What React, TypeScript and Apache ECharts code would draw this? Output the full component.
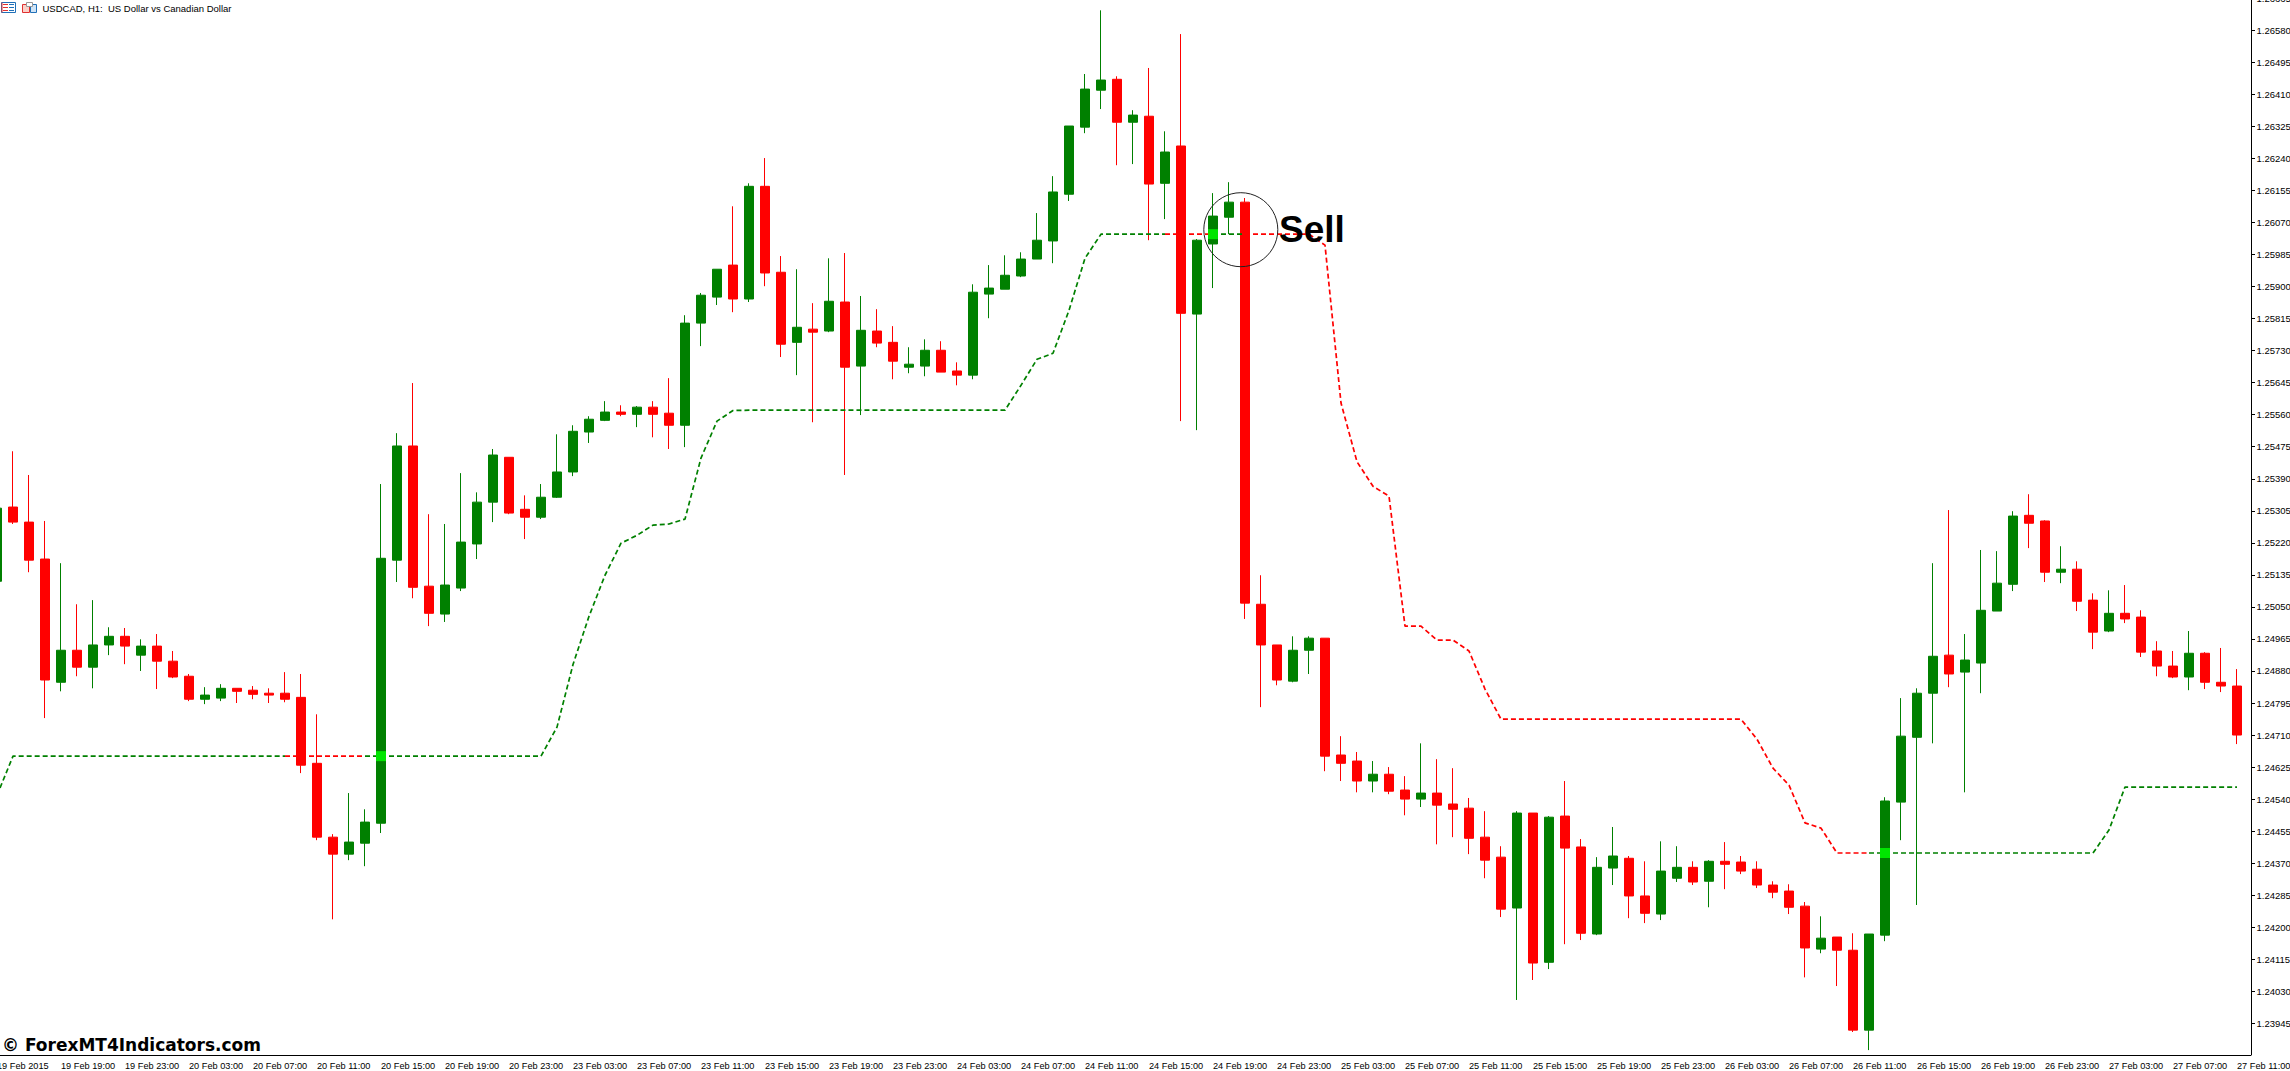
import React, { useEffect, useRef } from 'react'
import * as echarts from 'echarts'

// every 4th hourly bar carries a label
const tickLabels = [
  '19 Feb 2015', '19 Feb 19:00', '19 Feb 23:00',
  '20 Feb 03:00', '20 Feb 07:00', '20 Feb 11:00', '20 Feb 15:00', '20 Feb 19:00', '20 Feb 23:00',
  '23 Feb 03:00', '23 Feb 07:00', '23 Feb 11:00', '23 Feb 15:00', '23 Feb 19:00', '23 Feb 23:00',
  '24 Feb 03:00', '24 Feb 07:00', '24 Feb 11:00', '24 Feb 15:00', '24 Feb 19:00', '24 Feb 23:00',
  '25 Feb 03:00', '25 Feb 07:00', '25 Feb 11:00', '25 Feb 15:00', '25 Feb 19:00', '25 Feb 23:00',
  '26 Feb 03:00', '26 Feb 07:00', '26 Feb 11:00', '26 Feb 15:00', '26 Feb 19:00', '26 Feb 23:00',
  '27 Feb 03:00', '27 Feb 07:00', '27 Feb 11:00'
]

const priceTicks = [
  1.26665, 1.2658, 1.26495, 1.2641, 1.26325, 1.2624, 1.26155, 1.2607, 1.25985, 1.259, 1.25815,
  1.2573, 1.25645, 1.2556, 1.25475, 1.2539, 1.25305, 1.2522, 1.25135, 1.2505, 1.24965, 1.2488,
  1.24795, 1.2471, 1.24625, 1.2454, 1.24455, 1.2437, 1.24285, 1.242, 1.24115, 1.2403, 1.23945
]

const opens = [
  1.25118, 1.25315, 1.25275, 1.25177, 1.2485, 1.24935, 1.2489, 1.24949, 1.24972, 1.24922,
  1.24946, 1.24906, 1.24866, 1.24805, 1.24808, 1.24834, 1.24829, 1.24821, 1.24821, 1.2481,
  1.24635, 1.24439, 1.24394, 1.24423, 1.24476, 1.25174, 1.25477, 1.25105, 1.25031, 1.251,
  1.25217, 1.25328, 1.25447, 1.25309, 1.25288, 1.25341, 1.25408, 1.25514, 1.25545, 1.25567,
  1.25561, 1.2558, 1.25564, 1.25532, 1.25803, 1.25872, 1.25957, 1.25867, 1.26166, 1.25938,
  1.25752, 1.25787, 1.25782, 1.25859, 1.25689, 1.25782, 1.25752, 1.25686, 1.25689, 1.25731,
  1.25676, 1.25665, 1.2588, 1.25893, 1.25928, 1.25973, 1.26021, 1.26145, 1.26323, 1.26421,
  1.2645, 1.26336, 1.26352, 1.26174, 1.26273, 1.25827, 1.26013, 1.26084, 1.26124, 1.25057,
  1.24949, 1.24853, 1.24935, 1.24967, 1.24657, 1.24641, 1.24588, 1.24606, 1.24564, 1.2454,
  1.24556, 1.24527, 1.24516, 1.24439, 1.24386, 1.24251, 1.24503, 1.24107, 1.24495, 1.24413,
  1.24182, 1.24357, 1.24383, 1.24283, 1.24235, 1.2433, 1.24359, 1.24322, 1.24375, 1.24373,
  1.24354, 1.24312, 1.24296, 1.24256, 1.24142, 1.24174, 1.24139, 1.23927, 1.24179, 1.24532,
  1.24704, 1.24821, 1.24922, 1.24877, 1.24901, 1.25039, 1.2511, 1.25293, 1.25278, 1.25142,
  1.2515, 1.25068, 1.24986, 1.25033, 1.25023, 1.24933, 1.24893, 1.24864, 1.24927, 1.2485,
  1.2484
]

const closes = [
  1.25312, 1.25275, 1.25174, 1.24856, 1.24935, 1.2489, 1.24949, 1.24972, 1.24946, 1.24946,
  1.24906, 1.24864, 1.24805, 1.24816, 1.24834, 1.24826, 1.24818, 1.24816, 1.24805, 1.2463,
  1.24439, 1.24394, 1.24426, 1.24479, 1.25179, 1.25477, 1.25102, 1.25033, 1.25108, 1.25222,
  1.25328, 1.25453, 1.25299, 1.25288, 1.25341, 1.25408, 1.25516, 1.25548, 1.25567, 1.25561,
  1.2558, 1.25561, 1.25532, 1.25803, 1.25877, 1.25946, 1.25867, 1.26166, 1.25936, 1.25747,
  1.25792, 1.25779, 1.25861, 1.25686, 1.25784, 1.2575, 1.25702, 1.25694, 1.25731, 1.25673,
  1.25665, 1.25885, 1.25896, 1.2593, 1.25973, 1.26023, 1.26151, 1.26326, 1.26424, 1.26448,
  1.26336, 1.26355, 1.26172, 1.26257, 1.25829, 1.26023, 1.26087, 1.26124, 1.2506, 1.24949,
  1.24856, 1.24935, 1.24967, 1.24654, 1.24635, 1.24588, 1.24606, 1.24561, 1.2454, 1.24556,
  1.24524, 1.24513, 1.24436, 1.24378, 1.24248, 1.24503, 1.24105, 1.24492, 1.2441, 1.24184,
  1.24359, 1.24389, 1.24283, 1.24237, 1.24349, 1.24359, 1.2432, 1.24375, 1.24367, 1.24349,
  1.24312, 1.24293, 1.24253, 1.24145, 1.24171, 1.24139, 1.23927, 1.24182, 1.24535, 1.24707,
  1.24821, 1.24919, 1.24872, 1.24909, 1.25041, 1.25113, 1.25291, 1.25272, 1.25142, 1.2515,
  1.25065, 1.24983, 1.25033, 1.25018, 1.2493, 1.24893, 1.24864, 1.24927, 1.2485, 1.2484,
  1.2471
]

const lows = [
  1.25108, 1.2527, 1.25142, 1.24755, 1.24826, 1.24866, 1.24834, 1.24922, 1.24898, 1.2488,
  1.24832, 1.24861, 1.248, 1.24792, 1.248, 1.24795, 1.24805, 1.24795, 1.24797, 1.24609,
  1.24431, 1.24221, 1.24378, 1.24362, 1.2445, 1.25116, 1.25073, 1.24999, 1.2501, 1.25092,
  1.25177, 1.25275, 1.25296, 1.2523, 1.25283, 1.25339, 1.25397, 1.25485, 1.25543, 1.25556,
  1.25527, 1.255, 1.25469, 1.25474, 1.25742, 1.25851, 1.25832, 1.25859, 1.25901, 1.25713,
  1.25665, 1.2554, 1.25779, 1.254, 1.25559, 1.25739, 1.25654, 1.2567, 1.25662, 1.25673,
  1.25638, 1.25654, 1.25816, 1.25893, 1.25925, 1.25973, 1.25962, 1.26127, 1.26307, 1.26371,
  1.26222, 1.26225, 1.26023, 1.26079, 1.25543, 1.25519, 1.25896, 1.26039, 1.25018, 1.24784,
  1.24842, 1.2485, 1.24872, 1.24614, 1.24588, 1.24558, 1.24558, 1.24553, 1.24497, 1.24519,
  1.2442, 1.24439, 1.24394, 1.2433, 1.24227, 1.24007, 1.2406, 1.24089, 1.24155, 1.24166,
  1.24179, 1.24312, 1.24224, 1.24211, 1.24219, 1.2432, 1.24312, 1.24253, 1.24301, 1.24341,
  1.24304, 1.24277, 1.24235, 1.24067, 1.24131, 1.24044, 1.23922, 1.23874, 1.24163, 1.24431,
  1.24259, 1.24688, 1.24837, 1.24558, 1.24821, 1.25039, 1.25092, 1.25206, 1.25116, 1.25113,
  1.25039, 1.24938, 1.24983, 1.25007, 1.24917, 1.24866, 1.24861, 1.24829, 1.24832, 1.24824,
  1.24686
]

const highs = [
  1.2532, 1.25463, 1.254, 1.25278, 1.25166, 1.25057, 1.25068, 1.24996, 1.24994, 1.24964,
  1.24978, 1.24933, 1.24872, 1.24837, 1.24845, 1.24834, 1.2484, 1.24834, 1.24877, 1.24872,
  1.24765, 1.24447, 1.24556, 1.24513, 1.25376, 1.25511, 1.25644, 1.25296, 1.2527, 1.25405,
  1.25354, 1.25469, 1.25447, 1.25346, 1.25376, 1.25508, 1.25532, 1.25556, 1.25596, 1.25585,
  1.25583, 1.25596, 1.25657, 1.25824, 1.25883, 1.25946, 1.26113, 1.26174, 1.26241, 1.25981,
  1.25946, 1.25856, 1.25975, 1.25989, 1.25875, 1.2584, 1.25795, 1.25739, 1.2576, 1.25755,
  1.25699, 1.25906, 1.25957, 1.25983, 1.25991, 1.26095, 1.26193, 1.26326, 1.26464, 1.26633,
  1.26458, 1.26368, 1.2648, 1.26312, 1.2657, 1.26026, 1.26148, 1.26177, 1.26135, 1.25134,
  1.24949, 1.24972, 1.24972, 1.24967, 1.24707, 1.24665, 1.24641, 1.24625, 1.24601, 1.24688,
  1.24646, 1.24622, 1.24543, 1.24508, 1.24415, 1.24508, 1.24503, 1.24495, 1.24588, 1.24434,
  1.24386, 1.24466, 1.24389, 1.24375, 1.24428, 1.24415, 1.24375, 1.24378, 1.24426, 1.24389,
  1.24375, 1.24322, 1.24314, 1.24267, 1.24229, 1.24174, 1.24184, 1.24182, 1.24545, 1.24808,
  1.24834, 1.25166, 1.25307, 1.24978, 1.25201, 1.25198, 1.25304, 1.25349, 1.2528, 1.25211,
  1.25171, 1.25086, 1.25094, 1.25108, 1.25041, 1.24959, 1.24933, 1.24986, 1.2493, 1.24941,
  1.24885
]

// trailing line of the indicator, split by direction
const trendUp = [
  1.2455, 1.24654, 1.24654, 1.24654, 1.24654, 1.24654, 1.24654, 1.24654, 1.24654, 1.24654,
  1.24654, 1.24654, 1.24654, 1.24654, 1.24654, 1.24654, 1.24654, 1.24654, 1.24654, null,
  null, null, null, 1.24654, 1.24654, 1.24654, 1.24654, 1.24654, 1.24654, 1.24654,
  1.24654, 1.24654, 1.24654, 1.24654, 1.24654, 1.24731, 1.24897, 1.25025, 1.25134, 1.25219,
  1.2524, 1.25267, 1.2527, 1.25283, 1.25445, 1.25543, 1.25571, 1.25572, 1.25572, 1.25572,
  1.25572, 1.25572, 1.25572, 1.25572, 1.25572, 1.25572, 1.25572, 1.25572, 1.25572, 1.25572,
  1.25572, 1.25572, 1.25572, 1.25572, 1.25638, 1.25707, 1.25723, 1.25837, 1.25975, 1.26039,
  1.26039, 1.26039, 1.26039, 1.26039, null, null, 1.26039, 1.26039, 1.26039, null,
  null, null, null, null, null, null, null, null, null, null,
  null, null, null, null, null, null, null, null, null, null,
  null, null, null, null, null, null, null, null, null, null,
  null, null, null, null, null, null, null, 1.24397, 1.24397, 1.24397,
  1.24397, 1.24397, 1.24397, 1.24397, 1.24397, 1.24397, 1.24397, 1.24397, 1.24397, 1.24397,
  1.24397, 1.24397, 1.24458, 1.24572, 1.24572, 1.24572, 1.24572, 1.24572, 1.24572, 1.24572,
  1.24572
]

const trendDown = [
  null, null, null, null, null, null, null, null, null, null,
  null, null, null, null, null, null, null, null, 1.24654, 1.24654,
  1.24654, 1.24654, 1.24654, 1.24654, null, null, null, null, null, null,
  null, null, null, null, null, null, null, null, null, null,
  null, null, null, null, null, null, null, null, null, null,
  null, null, null, null, null, null, null, null, null, null,
  null, null, null, null, null, null, null, null, null, null,
  null, null, null, 1.26039, 1.26039, 1.26039, 1.26039, null, 1.26039, 1.26039,
  1.26039, 1.26039, 1.26039, 1.2601, 1.25591, 1.25435, 1.2537, 1.25344, 1.24999, 1.24999,
  1.24962, 1.24962, 1.24933, 1.24832, 1.24752, 1.24752, 1.24752, 1.24752, 1.24752, 1.24752,
  1.24752, 1.24752, 1.24752, 1.24752, 1.24752, 1.24752, 1.24752, 1.24752, 1.24752, 1.24752,
  1.24699, 1.24622, 1.24577, 1.24477, 1.24463, 1.24397, 1.24397, 1.24397, null, null,
  null, null, null, null, null, null, null, null, null, null,
  null, null, null, null, null, null, null, null, null, null,
  null
]

const signalBars = [24, 76, 118]
const signalPrices = [1.24654, 1.26039, 1.24397]

const categories = opens.map((_, i) => (i % 4 === 0 ? tickLabels[i / 4] : ''))
const candles = opens.map((o, i) => [o, closes[i], lows[i], highs[i]])

const UP = '#008000'
const DOWN = '#ff0000'
const TEXT_FONT = '"Liberation Sans", sans-serif'

const App: React.FC = () => {
  const chartRef = useRef<HTMLDivElement>(null)

  useEffect(() => {
    if (!chartRef.current) return
    const chart = echarts.init(chartRef.current, undefined, { renderer: 'svg' })

    chart.setOption({
      animation: false,
      backgroundColor: '#ffffff',
      grid: { left: -11, top: -1.74, width: 2256, height: 1056.74, outerBoundsMode: 'none' },
      xAxis: {
        type: 'category',
        data: categories,
        axisLine: { lineStyle: { color: '#000000', width: 1 } },
        axisTick: { interval: 3, length: 4, alignWithLabel: true, lineStyle: { color: '#000000' } },
        axisLabel: {
          interval: 3,
          align: 'left',
          margin: 6,
          color: '#000000',
          fontFamily: TEXT_FONT,
          fontSize: 9.2
        },
        splitLine: { show: false }
      },
      yAxis: {
        type: 'value',
        position: 'right',
        offset: 6,
        min: 1.23861,
        max: 1.26665,
        scale: true,
        axisLine: { show: true, onZero: false, lineStyle: { color: '#000000', width: 1 } },
        axisTick: { show: true, length: 4, customValues: priceTicks, lineStyle: { color: '#000000' } },
        axisLabel: {
          customValues: priceTicks,
          margin: 5.5,
          color: '#000000',
          fontFamily: TEXT_FONT,
          fontSize: 9.5,
          formatter: (v: number) => v.toFixed(5)
        },
        splitLine: { show: false }
      },
      series: [
        {
          type: 'candlestick',
          data: candles,
          barWidth: 10,
          itemStyle: {
            color: UP,
            color0: DOWN,
            borderColor: UP,
            borderColor0: DOWN,
            borderWidth: 1
          },
          z: 2
        },
        {
          type: 'line',
          data: trendUp,
          showSymbol: false,
          connectNulls: false,
          lineStyle: { color: UP, width: 1.7, type: [5, 3] },
          z: 3
        },
        {
          type: 'line',
          data: trendDown,
          showSymbol: false,
          connectNulls: false,
          lineStyle: { color: DOWN, width: 1.7, type: [5, 3] },
          z: 3
        },
        {
          type: 'scatter',
          data: signalBars.map((bar, i) => [bar, signalPrices[i]]),
          symbol: 'rect',
          symbolSize: 10,
          itemStyle: { color: '#00ff00' },
          z: 4
        }
      ],
      graphic: [
        // rest of the time axis, up to the price scale
        { type: 'line', shape: { x1: 2244, y1: 1055.5, x2: 2251, y2: 1055.5 }, style: { stroke: '#000000', lineWidth: 1 } },
        // chart list icon
        { type: 'rect', shape: { x: 1.5, y: 2.5, width: 14, height: 10 }, style: { fill: '#ffffff', stroke: '#2070b8', lineWidth: 1 } },
        { type: 'rect', shape: { x: 1.5, y: 2.5, width: 1, height: 10 }, style: { fill: '#e03030' } },
        { type: 'rect', shape: { x: 3, y: 4, width: 5, height: 1 }, style: { fill: '#e03030' } },
        { type: 'rect', shape: { x: 3, y: 7, width: 5, height: 1 }, style: { fill: '#e03030' } },
        { type: 'rect', shape: { x: 3, y: 10, width: 5, height: 1 }, style: { fill: '#e03030' } },
        { type: 'rect', shape: { x: 9, y: 4, width: 5, height: 1 }, style: { fill: '#2070b8' } },
        { type: 'rect', shape: { x: 9, y: 7, width: 5, height: 1 }, style: { fill: '#2070b8' } },
        { type: 'rect', shape: { x: 9, y: 10, width: 5, height: 1 }, style: { fill: '#2070b8' } },
        // template icon
        { type: 'rect', shape: { x: 22.5, y: 4.5, width: 7, height: 8 }, style: { fill: '#fbd0c8', stroke: '#e03030', lineWidth: 1 } },
        { type: 'rect', shape: { x: 30.5, y: 4.5, width: 6, height: 8 }, style: { fill: '#d0e4f6', stroke: '#2070b8', lineWidth: 1 } },
        { type: 'rect', shape: { x: 26.5, y: 2.5, width: 6, height: 4 }, style: { fill: '#ffffff', stroke: '#999999', lineWidth: 1 } },
        {
          type: 'text',
          x: 42.5,
          y: 3,
          style: { text: 'USDCAD, H1:  US Dollar vs Canadian Dollar', fill: '#000000', font: `9.5px ${TEXT_FONT}` }
        },
        {
          type: 'circle',
          shape: { cx: 1240.8, cy: 229.7, r: 37 },
          style: { fill: 'none', stroke: '#222222', lineWidth: 1 },
          z: 10
        },
        {
          type: 'text',
          x: 1279,
          y: 211,
          style: { text: 'Sell', fill: '#000000', font: 'bold 37px "Liberation Sans", sans-serif' },
          z: 10
        },
        {
          type: 'text',
          x: 2,
          y: 1036,
          style: { text: '© ForexMT4Indicators.com', fill: '#000000', font: 'bold 17px "DejaVu Sans", sans-serif' },
          z: 10
        }
      ]
    })

    return () => {
      chart.dispose()
    }
  }, [])

  return (
    <div
      ref={chartRef}
      style={{ position: 'absolute', left: 0, top: 0, width: 2290, height: 1071, overflow: 'hidden' }}
    />
  )
}

export default App
